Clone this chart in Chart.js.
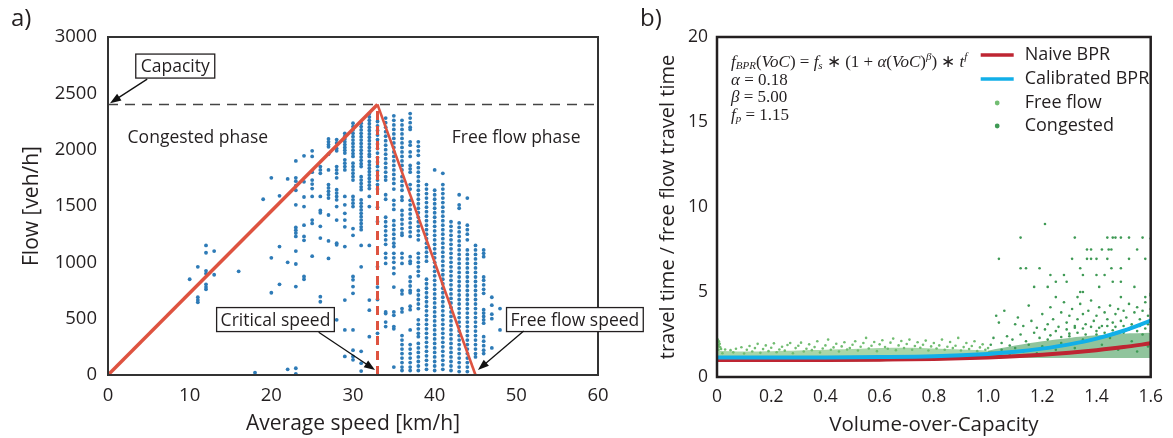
<!DOCTYPE html>
<html>
<head>
<meta charset="utf-8">
<script src="https://cdn.jsdelivr.net/npm/chart.js@4.4.1/dist/chart.umd.min.js"></script>
<style>
  html, body { margin: 0; padding: 0; background: #fff; }
  #wrap { position: relative; width: 1173px; height: 438px; overflow: hidden; }
  #chartA { position: absolute; left: 0; top: 0; width: 645px; height: 438px; }
  #chartB { position: absolute; left: 640px; top: 0; width: 533px; height: 438px; }
</style>
</head>
<body>
<div id="wrap">
  <canvas id="chartB" width="533" height="438"></canvas>
  <canvas id="chartA" width="645" height="438"></canvas>
</div>
<script>
// ---------- panel a: flow vs speed ----------
const speedCols = [10, 11, 12, 13, 16, 18, 19, 20, 21, 22, 23, 24, 25, 26, 27, 28, 29, 30, 31, 32, 33, 34, 35, 36, 37, 38, 39, 40, 41, 42, 43, 44, 45, 46, 47, 48];
const flowCols = [
  [850],
  [960, 690, 665, 645],
  [1150, 1085, 925, 900, 805, 780, 760],
  [1100, 890],
  [920],
  [20],
  [1560],
  [1750, 1040, 730],
  [1590, 1140, 805],
  [1740, 1000, 50],
  [1900, 1750, 1720, 1680, 1640, 1510, 1310, 1285, 1260, 1230, 1100, 985, 785, 60, 10],
  [1945, 1715, 1580, 1495, 1330, 1230, 1195, 875, 850],
  [1990, 1940, 1800, 1730, 1695, 1655, 1585, 1375, 1345, 1055],
  [1850, 1820, 1790, 1585, 1460, 1440, 1320, 1215, 695, 650, 490],
  [2095, 2070, 2045, 2025, 1960, 1820, 1690, 1660, 1630, 1600, 1570, 1420, 1190, 1035],
  [2090, 2060, 2010, 1990, 1850, 1820, 1790, 1750, 1645, 1615, 1585, 1555, 1495, 1375, 1170, 1155, 490],
  [2145, 2120, 2095, 2070, 2045, 2020, 1995, 1970, 1910, 1880, 1850, 1820, 1585, 1510, 1435, 1375, 1315, 1140, 665, 400, 165],
  [2235, 2205, 2175, 2145, 2115, 2085, 2055, 2025, 1995, 1965, 1940, 1880, 1850, 1820, 1790, 1760, 1730, 1585, 1555, 1525, 1495, 1300, 1240, 875, 845, 785, 725, 400, 220, 165, 135],
  [2235, 2205, 2175, 2145, 2115, 2085, 2055, 2025, 1995, 1965, 1935, 1905, 1875, 1850, 1760, 1730, 1700, 1670, 1645, 1555, 1525, 1495, 1465, 1435, 1405, 1375, 1345, 1315, 1290, 1150, 960, 210, 105, 35],
  [2320, 2290, 2260, 2230, 2200, 2170, 2140, 2110, 2080, 2050, 2020, 1990, 1960, 1940, 1895, 1865, 1835, 1805, 1775, 1745, 1715, 1685, 1655, 1585, 1495, 1150, 665, 575, 340],
  [2250, 2210, 2170, 2130, 2090, 2050, 2010, 1970, 1930, 1890, 1850, 1810, 1770, 1730, 1690, 1650, 1490, 1360, 960, 780, 670, 370],
  [2280, 2240, 2200, 2160, 2120, 2080, 2040, 2000, 1960, 1920, 1880, 1840, 1800, 1760, 1730, 1600, 1560, 1400, 1360, 1320, 1280, 1240, 1200, 1160, 1080, 1040, 990, 560, 545, 470, 430],
  [2300, 2260, 2220, 2180, 2140, 2100, 2060, 2020, 1980, 1940, 1900, 1860, 1820, 1780, 1740, 1700, 1650, 1550, 1510, 1470, 1370, 1330, 1290, 1250, 1210, 1170, 1140, 1080, 1040, 1000, 950, 900, 780, 560, 530, 430, 410, 70],
  [2260, 2220, 2180, 2140, 2100, 2060, 2020, 1980, 1940, 1900, 1860, 1820, 1760, 1720, 1680, 1640, 1580, 1550, 1460, 1420, 1380, 1340, 1300, 1260, 1240, 1080, 1040, 990, 750, 720, 590, 560, 350, 310, 270, 230, 190, 150, 110, 70, 40],
  [2320, 2280, 2240, 2200, 2180, 2070, 2040, 1980, 1940, 1860, 1830, 1800, 1690, 1650, 1550, 1510, 1470, 1430, 1390, 1350, 1310, 1270, 1230, 1050, 1010, 990, 870, 830, 790, 750, 730, 610, 580, 400, 270, 230, 190, 150, 110, 70, 40],
  [2070, 2030, 1990, 1950, 1880, 1840, 1800, 1760, 1720, 1680, 1640, 1600, 1560, 1520, 1480, 1440, 1400, 1360, 1320, 1280, 1240, 1200, 1080, 1040, 1000, 960, 920, 880, 750, 710, 670, 630, 590, 490, 450, 410, 370, 340, 280, 240, 200, 160, 120, 80, 40],
  [1690, 1650, 1610, 1570, 1530, 1490, 1450, 1410, 1370, 1330, 1290, 1250, 1210, 1170, 1130, 1090, 1050, 1010, 850, 810, 770, 730, 690, 650, 610, 570, 530, 490, 450, 410, 370, 330, 290, 250, 210, 170, 130, 90, 50],
  [1820, 1640, 1600, 1560, 1520, 1480, 1440, 1400, 1360, 1320, 1280, 1240, 1200, 1160, 1120, 1080, 1040, 1000, 960, 920, 880, 840, 800, 760, 720, 680, 640, 600, 560, 520, 480, 440, 400, 360, 320, 280, 240, 200, 160, 120, 80, 40],
  [1790, 1690, 1650, 1610, 1570, 1530, 1490, 1450, 1410, 1370, 1330, 1290, 1250, 1210, 1170, 1130, 1090, 1050, 1010, 970, 930, 890, 850, 810, 770, 730, 690, 650, 610, 570, 530, 490, 450, 410, 370, 330, 290, 250, 210, 170, 130, 90, 50],
  [1360, 1320, 1280, 1240, 1200, 1160, 1120, 1080, 1040, 1000, 960, 920, 880, 840, 800, 760, 720, 680, 640, 600, 560, 520, 480, 440, 400, 360, 320, 280, 240, 200, 160, 120, 80, 40],
  [1600, 1510, 1480, 1350, 1310, 1270, 1230, 1190, 1150, 1110, 1070, 1030, 990, 950, 910, 870, 830, 790, 750, 710, 670, 630, 590, 550, 510, 470, 430, 390, 350, 310, 270, 230, 190, 150, 110, 70, 30],
  [1570, 1330, 1290, 1250, 1200, 1110, 1070, 1030, 990, 950, 910, 870, 830, 790, 750, 710, 670, 630, 590, 550, 510, 470, 430, 390, 350, 310, 270, 230, 190, 150, 110, 70, 30],
  [1150, 1110, 1070, 1030, 990, 950, 910, 870, 830, 790, 750, 710, 670, 630, 590, 550, 510, 470, 430, 390, 350, 310, 270, 230, 190, 160],
  [1110, 1080, 1050, 870, 840, 800, 760, 725, 580, 550, 520, 490, 460, 340, 300, 260, 220, 190],
  [690, 620, 540, 500, 240],
  [590, 400]
];
const capacity = 2400;
const criticalSpeed = 33;
const freeFlowSpeed = 45;
const speedTicks = [0, 10, 20, 30, 40, 50, 60];
const flowTicks = [0, 500, 1000, 1500, 2000, 2500, 3000];

// ---------- panel b: travel time ratio vs VoC ----------
const vocTicks = [0, 0.2, 0.4, 0.6, 0.8, 1.0, 1.2, 1.4, 1.6];
const vocTickLabels = ['0', '0.2', '0.4', '0.6', '0.8', '1.0', '1.2', '1.4', '1.6'];
const ratioTicks = [0, 5, 10, 15, 20];

const curveVoc = [0, 0.2, 0.4, 0.6, 0.8, 1.0, 1.1, 1.2, 1.3, 1.4, 1.5, 1.6];
const naiveBpr = [1.00, 1.00, 1.00, 1.02, 1.06, 1.15, 1.22, 1.31, 1.43, 1.58, 1.76, 1.98];
const calibratedBpr = [1.15, 1.15, 1.15, 1.17, 1.22, 1.36, 1.48, 1.67, 1.92, 2.26, 2.72, 3.32];

const freeBandVoc = [0, 0.1, 0.2, 0.3, 0.4, 0.5, 0.6, 0.7, 0.8, 0.9, 1.0, 1.05];
const freeBandTop = [1.55, 1.5, 1.52, 1.56, 1.6, 1.64, 1.7, 1.72, 1.68, 1.62, 1.55, 1.45];
const freeBandLow = [0.9, 0.9, 0.9, 0.9, 0.9, 0.9, 0.92, 0.95, 0.98, 1.02, 1.08, 1.1];
const congBandVoc = [1.0, 1.1, 1.2, 1.3, 1.4, 1.5, 1.6];
const congBandTop = [1.55, 1.85, 2.1, 2.3, 2.45, 2.55, 2.6];
const congBandLow = [1.1, 1.12, 1.12, 1.12, 1.12, 1.12, 1.12];

const freePts = [
  [0.003, 2.2], [0.005, 2.05], [0.004, 1.9], [0.008, 1.8], [0.002, 1.7], [0.006, 1.6], [0.01, 1.95], [0.012, 1.75], [0.007, 2.1], [0.015, 1.65],
  [0.03, 1.62], [0.05, 1.58], [0.07, 1.66], [0.09, 1.75], [0.11, 1.6], [0.12, 1.82], [0.14, 1.7], [0.15, 1.95], [0.17, 1.64], [0.18, 1.86],
  [0.2, 1.72], [0.21, 1.98], [0.23, 1.62], [0.24, 1.78], [0.26, 1.88], [0.27, 2.0], [0.29, 1.7], [0.3, 1.84], [0.31, 2.02], [0.33, 1.66],
  [0.34, 1.92], [0.36, 1.76], [0.37, 2.1], [0.39, 1.68], [0.4, 1.86], [0.41, 2.2], [0.43, 1.74], [0.44, 1.96], [0.46, 1.8], [0.47, 2.04],
  [0.49, 1.7], [0.5, 1.9], [0.51, 2.1], [0.53, 1.78], [0.54, 2.0], [0.55, 2.3], [0.57, 1.84], [0.58, 2.06], [0.6, 1.92], [0.61, 2.16],
  [0.62, 1.76], [0.64, 2.02], [0.65, 2.26], [0.67, 1.86], [0.68, 2.12], [0.7, 1.94], [0.71, 2.2], [0.73, 1.82], [0.74, 2.04], [0.76, 1.9],
  [0.77, 2.14], [0.79, 1.8], [0.8, 2.0], [0.82, 1.86], [0.83, 2.2], [0.85, 1.78], [0.86, 2.06], [0.88, 1.84], [0.89, 2.3], [0.91, 1.76],
  [0.92, 2.0], [0.94, 1.82], [0.95, 2.1], [0.97, 1.74], [0.98, 1.92], [1.0, 1.7],
  [0.02, 1.4], [0.06, 1.45], [0.1, 1.38], [0.13, 1.5], [0.16, 1.42], [0.19, 1.52], [0.22, 1.46], [0.25, 1.55], [0.28, 1.4], [0.32, 1.5],
  [0.35, 1.58], [0.38, 1.44], [0.42, 1.6], [0.45, 1.5], [0.48, 1.62], [0.52, 1.56], [0.56, 1.68], [0.59, 1.52], [0.63, 1.66], [0.66, 1.58],
  [0.69, 1.7], [0.72, 1.6], [0.75, 1.72], [0.78, 1.56], [0.81, 1.68], [0.84, 1.6], [0.87, 1.7], [0.9, 1.56], [0.93, 1.64], [0.96, 1.52], [0.99, 1.6]
];
const congPts = [
  [1.21, 9.0],
  [1.12, 8.2], [1.32, 8.2], [1.44, 8.2], [1.46, 8.2], [1.47, 8.2], [1.49, 8.2], [1.52, 8.2], [1.57, 8.2], [1.6, 8.15],
  [1.365, 7.5], [1.38, 7.5], [1.42, 7.5], [1.445, 7.5], [1.455, 7.5], [1.55, 7.5],
  [1.04, 6.95], [1.31, 6.95], [1.365, 6.95], [1.38, 6.95], [1.40, 6.95], [1.44, 6.95], [1.52, 6.95], [1.58, 6.95],
  [1.12, 6.4], [1.14, 6.4], [1.19, 6.4], [1.34, 6.4], [1.455, 6.4], [1.49, 6.4],
  [1.23, 6.0], [1.28, 6.0], [1.35, 6.0], [1.40, 6.0], [1.43, 6.0],
  [1.25, 5.6], [1.29, 5.6], [1.46, 5.6], [1.49, 5.6],
  [1.17, 5.3], [1.22, 5.3], [1.41, 5.3], [1.54, 5.3],
  [1.34, 5.0], [1.35, 5.0], [1.6, 4.9],
  [1.25, 4.7], [1.33, 4.7], [1.49, 4.7], [1.58, 4.7],
  [1.03, 3.6], [1.04, 3.2], [1.06, 3.9], [1.1, 3.1], [1.11, 3.5], [1.13, 3.0], [1.15, 4.2], [1.16, 3.3], [1.18, 2.9], [1.2, 3.7],
  [1.22, 3.1], [1.23, 4.1], [1.24, 3.4], [1.26, 2.95], [1.27, 3.8], [1.28, 4.4], [1.29, 3.2], [1.3, 3.6], [1.31, 4.0], [1.32, 3.0],
  [1.33, 3.4], [1.34, 4.3], [1.35, 3.7], [1.36, 3.1], [1.37, 3.9], [1.38, 4.5], [1.39, 3.3], [1.4, 3.6], [1.41, 4.1], [1.42, 3.0],
  [1.43, 3.8], [1.44, 3.4], [1.45, 4.2], [1.46, 3.2], [1.47, 3.7], [1.48, 4.0], [1.49, 3.3], [1.5, 3.9], [1.51, 3.5], [1.52, 4.3],
  [1.53, 3.1], [1.54, 3.8], [1.55, 4.1], [1.56, 3.4], [1.57, 3.9], [1.58, 4.4], [1.59, 3.6], [1.6, 4.0], [1.6, 4.8],
  [1.01, 1.9], [1.02, 2.3], [1.05, 2.0], [1.07, 2.4], [1.08, 1.85], [1.09, 2.2], [1.12, 2.5], [1.14, 2.1], [1.17, 2.6], [1.19, 2.3],
  [1.21, 2.8], [1.23, 2.45], [1.25, 2.7], [1.27, 2.35], [1.29, 2.8], [1.3, 2.55], [1.32, 2.9], [1.33, 2.6], [1.35, 2.85], [1.36, 2.5],
  [1.38, 2.95], [1.4, 2.7], [1.41, 2.9], [1.43, 2.6], [1.44, 3.0], [1.46, 2.75], [1.47, 2.95], [1.49, 2.65], [1.5, 3.0], [1.52, 2.8],
  [1.53, 2.95], [1.55, 2.7], [1.56, 3.0], [1.58, 2.85], [1.59, 3.1],
  [1.02, 1.4], [1.05, 1.6], [1.08, 1.3], [1.1, 1.7], [1.13, 1.5], [1.15, 1.9], [1.18, 1.4], [1.2, 1.8], [1.22, 2.2], [1.25, 1.6],
  [1.27, 2.0], [1.3, 2.4], [1.32, 1.7], [1.35, 2.2], [1.37, 1.5], [1.4, 2.5], [1.42, 1.9], [1.45, 2.3], [1.48, 1.6], [1.5, 2.6],
  [1.53, 2.1], [1.55, 1.5], [1.57, 2.5], [1.59, 1.8], [1.6, 2.7]
];

const FONT = '"Open Sans", "Noto Sans", sans-serif';
const INK = '#231f20';
const RED_A = '#de5340';
const BLUE_A = '#2e7bb7';
const RED_B = '#be2532';
const BLUE_B = '#12afe8';
const GREEN_FREE = '#72bd72';
const GREEN_CONG = '#3f9a55';

const xy = (xs, ys) => xs.map((v, i) => ({ x: v, y: ys[i] }));
const pairs = (list) => list.map(p => ({ x: p[0], y: p[1] }));

function axis(min, max, ticks, title, size, titleSize, fitSize, isX, tickPad, titlePad, labels) {
  return {
    type: 'linear', min: min, max: max,
    afterBuildTicks: (s) => { s.ticks = ticks.map(v => ({ value: v })); },
    ticks: {
      color: INK, padding: tickPad, font: { family: FONT, size: size },
      callback: (v, i) => labels ? labels[i] : String(v)
    },
    grid: { display: false, drawTicks: false },
    border: { display: false },
    title: { display: true, text: title, color: INK, font: { family: FONT, size: titleSize }, padding: titlePad },
    afterFit: (s) => { if (isX) s.height = fitSize; else s.width = fitSize; }
  };
}

function arrow(ctx, x1, y1, x2, y2) {
  const a = Math.atan2(y2 - y1, x2 - x1);
  const len = 11, w = 4;
  ctx.beginPath();
  ctx.moveTo(x1, y1);
  ctx.lineTo(x2 - Math.cos(a) * len * 0.8, y2 - Math.sin(a) * len * 0.8);
  ctx.stroke();
  ctx.beginPath();
  ctx.moveTo(x2, y2);
  ctx.lineTo(x2 - Math.cos(a) * len - Math.sin(a) * w, y2 - Math.sin(a) * len + Math.cos(a) * w);
  ctx.lineTo(x2 - Math.cos(a) * len + Math.sin(a) * w, y2 - Math.sin(a) * len - Math.cos(a) * w);
  ctx.closePath();
  ctx.fill();
}

function labelBox(ctx, text, left, cy, pad) {
  const w = ctx.measureText(text).width + pad * 2;
  const h = 24;
  ctx.fillStyle = '#fff';
  ctx.fillRect(left, cy - h / 2, w, h);
  ctx.strokeStyle = INK;
  ctx.lineWidth = 1.3;
  ctx.strokeRect(left, cy - h / 2, w, h);
  ctx.fillStyle = INK;
  ctx.fillText(text, left + pad, cy + 1);
}

const annotA = {
  id: 'annotA',
  afterDraw(chart) {
    const { ctx, chartArea: ca, scales: { x, y } } = chart;
    ctx.save();
    ctx.strokeStyle = '#333';
    ctx.lineWidth = 2;
    ctx.strokeRect(ca.left, ca.top, ca.right - ca.left, ca.bottom - ca.top);

    ctx.font = `17.5px ${FONT}`;
    ctx.textBaseline = 'middle';
    ctx.fillStyle = INK;
    ctx.fillText('Congested phase', x.getPixelForValue(2.4), y.getPixelForValue(2100));
    ctx.fillText('Free flow phase', x.getPixelForValue(42.1), y.getPixelForValue(2100));

    labelBox(ctx, 'Capacity', x.getPixelForValue(3.4), y.getPixelForValue(2742), 5);
    labelBox(ctx, 'Critical speed', x.getPixelForValue(13.3), y.getPixelForValue(492), 4);
    labelBox(ctx, 'Free flow speed', x.getPixelForValue(48.8), y.getPixelForValue(492), 4);

    ctx.strokeStyle = '#111';
    ctx.fillStyle = '#111';
    ctx.lineWidth = 1.3;
    arrow(ctx, x.getPixelForValue(4.8), y.getPixelForValue(2626), x.getPixelForValue(0.25), y.getPixelForValue(2413));
    arrow(ctx, x.getPixelForValue(25.8), y.getPixelForValue(380), x.getPixelForValue(32.7), y.getPixelForValue(45));
    arrow(ctx, x.getPixelForValue(50.9), y.getPixelForValue(390), x.getPixelForValue(45.3), y.getPixelForValue(45));

    ctx.fillStyle = INK;
    ctx.font = `24px ${FONT}`;
    ctx.fillText('a)', 11, 19);
    ctx.restore();
  }
};

function rich(ctx, x, y, parts) {
  for (const [t, size, style, dy] of parts) {
    ctx.font = `${style} ${size}px "Liberation Serif", serif`;
    ctx.fillText(t, x, y + dy);
    x += ctx.measureText(t).width;
  }
}

const annotB = {
  id: 'annotB',
  afterDraw(chart) {
    const { ctx, chartArea: ca } = chart;
    ctx.save();
    ctx.strokeStyle = INK;
    ctx.lineWidth = 2.5;
    ctx.strokeRect(ca.left, ca.top, ca.right - ca.left, ca.bottom - ca.top);

    ctx.fillStyle = INK;
    ctx.textBaseline = 'middle';
    const fx = ca.left + 14;
    rich(ctx, fx, ca.top + 26, [
      ['f', 17, 'italic', 0], ['BPR', 11, 'italic', 3], ['(', 17, 'normal', 0], ['VoC', 17, 'italic', 0], [') = ', 17, 'normal', 0],
      ['f', 17, 'italic', 0], ['s', 11, 'italic', 3], [' \u2217 (1 + ', 17, 'normal', 0], ['\u03b1', 17, 'italic', 0], ['(', 17, 'normal', 0],
      ['VoC', 17, 'italic', 0], [')', 17, 'normal', 0], ['\u03b2', 11, 'italic', -6], [') \u2217 ', 17, 'normal', 0], ['t', 17, 'italic', 0], ['f', 11, 'italic', -6]
    ]);
    rich(ctx, fx, ca.top + 44, [['\u03b1', 17, 'italic', 0], [' = 0.18', 17, 'normal', 0]]);
    rich(ctx, fx, ca.top + 61, [['\u03b2', 17, 'italic', 0], [' = 5.00', 17, 'normal', 0]]);
    rich(ctx, fx, ca.top + 79, [['f', 17, 'italic', 0], ['p', 11, 'italic', 3], [' = 1.15', 17, 'normal', 0]]);

    // legend
    const lx0 = ca.right - 170, lx1 = ca.right - 137, tx = ca.right - 126;
    const rows = [ca.top + 18, ca.top + 42, ca.top + 66, ca.top + 89];
    ctx.lineWidth = 3.5;
    ctx.strokeStyle = RED_B;
    ctx.beginPath(); ctx.moveTo(lx0, rows[0]); ctx.lineTo(lx1, rows[0]); ctx.stroke();
    ctx.strokeStyle = BLUE_B;
    ctx.beginPath(); ctx.moveTo(lx0, rows[1]); ctx.lineTo(lx1, rows[1]); ctx.stroke();
    ctx.fillStyle = GREEN_FREE;
    ctx.beginPath(); ctx.arc((lx0 + lx1) / 2, rows[2], 2.4, 0, Math.PI * 2); ctx.fill();
    ctx.fillStyle = GREEN_CONG;
    ctx.beginPath(); ctx.arc((lx0 + lx1) / 2, rows[3], 2.4, 0, Math.PI * 2); ctx.fill();
    ctx.fillStyle = INK;
    ctx.font = `18px ${FONT}`;
    ['Naive BPR', 'Calibrated BPR', 'Free flow', 'Congested'].forEach((t, i) => ctx.fillText(t, tx, rows[i]));

    ctx.font = `24px ${FONT}`;
    ctx.fillText('b)', 0, 19);
    ctx.restore();
  }
};

const speedFlowPts = speedCols.flatMap((s, i) => flowCols[i].map(f => ({ x: s, y: f })));

new Chart(document.getElementById('chartA'), {
  type: 'line',
  data: {
    datasets: [
      { data: xy([0, criticalSpeed], [0, capacity]), borderColor: RED_A, borderWidth: 3.5, pointRadius: 0, fill: false },
      { data: xy([criticalSpeed, freeFlowSpeed], [capacity, 0]), borderColor: RED_A, borderWidth: 2.6, pointRadius: 0, fill: false },
      { data: xy([criticalSpeed, criticalSpeed], [0, capacity]), borderColor: RED_A, borderWidth: 3, borderDash: [9, 6], pointRadius: 0, fill: false },
      { data: xy([0, 60], [capacity, capacity]), borderColor: '#444', borderWidth: 1.5, borderDash: [10, 7], pointRadius: 0, fill: false },
      { data: speedFlowPts, showLine: false, pointRadius: 1.9, pointBorderWidth: 0, pointBackgroundColor: BLUE_A, backgroundColor: BLUE_A }
    ]
  },
  options: {
    responsive: false, animation: false,
    layout: { padding: { top: 37, right: 47, left: 0, bottom: 0 } },
    plugins: { legend: { display: false }, tooltip: { enabled: false } },
    scales: {
      x: axis(0, 60, speedTicks, 'Average speed [km/h]', 18.5, 21, 63, true, 10, { top: 0, bottom: 1 }),
      y: axis(0, 3000, flowTicks, 'Flow [veh/h]', 18.5, 21, 108, false, 11, { top: 19, bottom: 0 })
    }
  },
  plugins: [annotA]
});

new Chart(document.getElementById('chartB'), {
  type: 'line',
  data: {
    datasets: [
      { data: xy(curveVoc, calibratedBpr), borderColor: BLUE_B, borderWidth: 4, pointRadius: 0, tension: 0.4, cubicInterpolationMode: 'monotone', fill: false },
      { data: xy(curveVoc, naiveBpr), borderColor: RED_B, borderWidth: 4, pointRadius: 0, tension: 0.4, cubicInterpolationMode: 'monotone', fill: false },
      { data: pairs(congPts), showLine: false, pointRadius: 1.3, pointBorderWidth: 0, pointBackgroundColor: GREEN_CONG },
      { data: pairs(freePts), showLine: false, pointRadius: 1.3, pointBorderWidth: 0, pointBackgroundColor: GREEN_FREE },
      { data: xy(congBandVoc, congBandTop), borderWidth: 0, pointRadius: 0, tension: 0.3, fill: '+1', backgroundColor: 'rgba(63,154,85,0.58)' },
      { data: xy(congBandVoc, congBandLow), borderWidth: 0, pointRadius: 0, tension: 0.3, fill: false },
      { data: xy(freeBandVoc, freeBandTop), borderWidth: 0, pointRadius: 0, tension: 0.3, fill: '+1', backgroundColor: 'rgba(114,189,114,0.62)' },
      { data: xy(freeBandVoc, freeBandLow), borderWidth: 0, pointRadius: 0, tension: 0.3, fill: false }
    ]
  },
  options: {
    responsive: false, animation: false,
    layout: { padding: { top: 37, right: 16, left: 0, bottom: 0 } },
    plugins: { legend: { display: false }, tooltip: { enabled: false } },
    scales: {
      x: axis(0, 1.6, vocTicks, 'Volume-over-Capacity', 17.5, 20.5, 61, true, 10, { top: 0, bottom: 1 }, vocTickLabels),
      y: axis(0, 20, ratioTicks, 'travel time / free flow travel time', 17.5, 20, 77, false, 9, { top: 16, bottom: 0 })
    }
  },
  plugins: [annotB]
});
</script>
</body>
</html>
